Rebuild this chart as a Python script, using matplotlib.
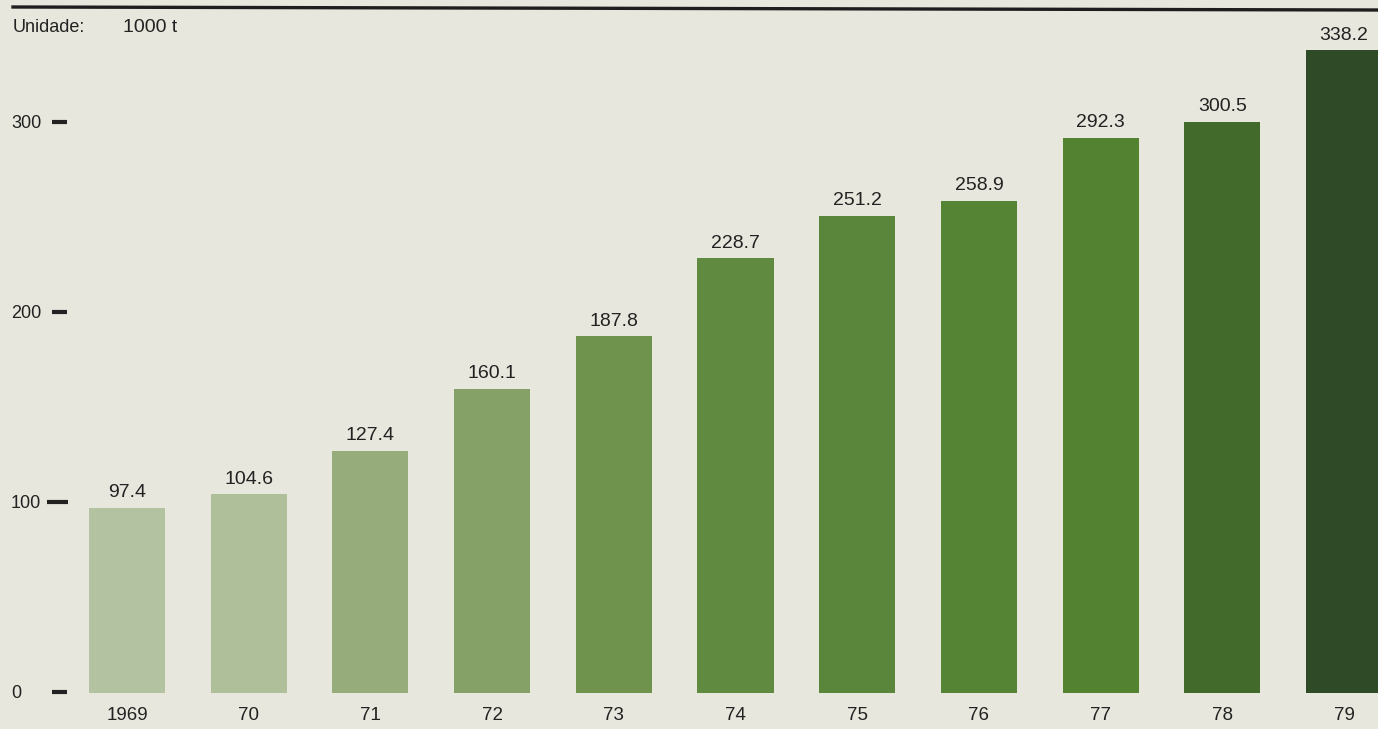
import matplotlib.pyplot as plt
from matplotlib.lines import Line2D
from matplotlib.transforms import blended_transform_factory

# ---- data ----
years = ['1969', '70', '71', '72', '73', '74', '75', '76', '77', '78', '79']
values = [97.4, 104.6, 127.4, 160.1, 187.8, 228.7, 251.2, 258.9, 292.3, 300.5, 338.2]
bar_colors = ['#b3c2a0', '#aebf99', '#96ac7b', '#85a167', '#6f924d', '#618a41',
              '#59863a', '#558435', '#538231', '#426a2a', '#2f4a26']
yticks = [0, 100, 200, 300]

BG = '#e7e7dd'
TXT = '#222222'
plt.rcParams['font.family'] = ['Liberation Sans', 'DejaVu Sans']

fig = plt.figure(figsize=(13.78, 7.29), dpi=100, facecolor=BG)
ax = fig.add_axes([0, 0, 1, 1], facecolor=BG)

x = list(range(len(years)))
ax.bar(x, values, width=0.625, color=bar_colors, linewidth=0)

# value labels above bars
for xi, v in zip(x, values):
    ax.text(xi, v + 3.5, f'{v:.1f}', ha='center', va='bottom', fontsize=14, color=TXT)

# year labels below baseline
for xi, yr in zip(x, years):
    ax.text(xi, -11.8, yr, ha='center', va='center', fontsize=13.5, color=TXT)

# scale: 0 at 693 px from top, 190 px per 100 units; 1969 bar centred at 127 px, step 121.7 px
ax.set_xlim(-127 / 121.7, (1378 - 127) / 121.7)
ax.set_ylim(-36 / 1.9, 693 / 1.9)
ax.axis('off')

# y labels with dash marks
tr = blended_transform_factory(ax.transAxes, ax.transData)
for t in yticks:
    ax.text(11 / 1378, t, str(t), ha='left', va='center', fontsize=13, color=TXT, transform=tr)
    x0 = 52 / 1378 if t != 100 else 47 / 1378
    x1 = 67 / 1378 if t != 100 else 68 / 1378
    ax.plot([x0, x1], [t + 0.5, t + 0.5], color=TXT, lw=3, transform=tr, solid_capstyle='butt')

# unit note and top rule
fig.text(13 / 1378, 1 - 27 / 729, 'Unidade:', ha='left', va='center', fontsize=13, color=TXT)
fig.text(123 / 1378, 1 - 27 / 729, '1000 t', ha='left', va='center', fontsize=14, color=TXT)
fig.add_artist(Line2D([13 / 1378, 1], [1 - 7 / 729, 1 - 10 / 729], color='#1e1e1e', lw=2.4))

fig.savefig('out.png', dpi=100, facecolor=BG)
